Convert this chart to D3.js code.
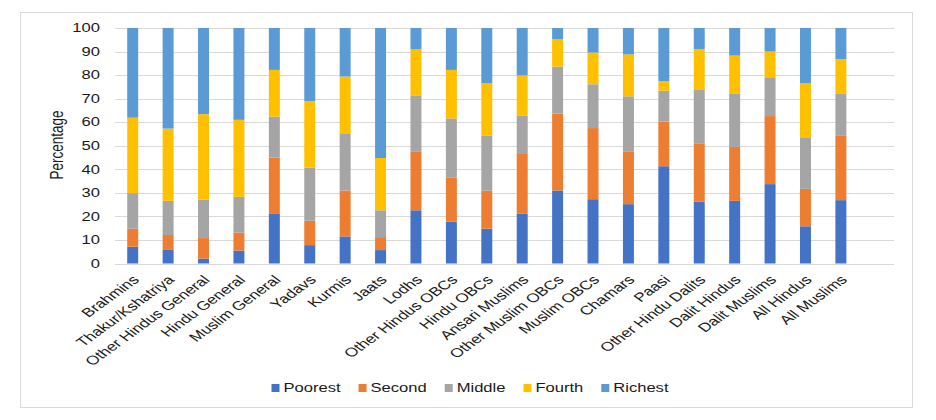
<!DOCTYPE html>
<html>
<head>
<meta charset="utf-8">
<script src="https://cdn.jsdelivr.net/npm/d3@7"></script>
<style>
  body { margin: 0; background: #fff; }
  svg { font-family: "Liberation Sans", Arial, sans-serif; }
</style>
</head>
<body>
<script>
// groups along the x axis
const categories = ["Brahmins", "Thakur/Kshatriya", "Other Hindus General", "Hindu General",
   "Muslim General", "Yadavs", "Kurmis", "Jaats", "Lodhs", "Other Hindus OBCs", "Hindu OBCs",
   "Ansari Muslims", "Other Muslim OBCs", "Muslim OBCs", "Chamars", "Paasi", "Other Hindu Dalits",
   "Dalit Hindus", "Dalit Muslims", "All Hindus", "All Muslims"];

const seriesNames = ["Poorest", "Second", "Middle", "Fourth", "Richest"];
const seriesColors = ["#4472C4", "#ED7D31", "#A5A5A5", "#FFC000", "#5B9BD5"];

// percentage in each wealth quintile
const poorest = [7.1, 6.0, 2.1, 5.5, 21.3, 7.8, 11.5, 5.7, 22.6, 17.8, 14.8, 21.1, 31.0, 27.3, 25.2, 41.3, 26.3, 26.6, 33.7, 15.8, 26.9];
const second  = [7.7, 6.1, 8.7, 7.6, 23.7, 10.4, 19.5, 5.5, 24.8, 18.6, 16.1, 25.4, 32.7, 30.2, 22.2, 18.9, 24.5, 22.9, 28.9, 15.9, 27.3];
const middle  = [15.1, 14.5, 16.4, 15.2, 17.4, 22.5, 24.0, 11.4, 24.0, 25.2, 23.3, 16.2, 19.9, 18.6, 23.6, 13.2, 22.9, 22.5, 16.5, 21.6, 17.8];
const fourth  = [32.0, 30.7, 36.2, 32.7, 19.8, 28.3, 24.4, 22.2, 19.5, 20.6, 22.3, 17.2, 11.6, 13.5, 17.8, 4.0, 17.3, 16.3, 10.9, 23.2, 14.8];
const richest = [38.1, 42.7, 36.6, 39.0, 17.8, 31.0, 20.6, 55.2, 9.1, 17.8, 23.5, 20.1, 4.8, 10.4, 11.2, 22.6, 9.0, 11.7, 10.0, 23.5, 13.2];

const yTicks = [0, 10, 20, 30, 40, 50, 60, 70, 80, 90, 100];

const width = 936, height = 420;
const margin = { left: 115, right: 42, top: 28, bottom: 157 };
// the reference picture is stretched sideways, so the text is too
const stretch = 1.38;

const rows = categories.map((c, i) => ({
   cat: c,
   Poorest: poorest[i], Second: second[i], Middle: middle[i], Fourth: fourth[i], Richest: richest[i]
}));
const stacked = d3.stack().keys(seriesNames)(rows);

const svg = d3.select("body").append("svg")
   .attr("width", width)
   .attr("height", height);

// chart frame
svg.append("rect")
   .attr("x", 20.5).attr("y", 12.5)
   .attr("width", 892).attr("height", 395)
   .attr("fill", "#fff")
   .attr("stroke", "#d9d9d9");

// Excel leaves an empty slot at the right end
const x = d3.scaleBand()
   .domain(categories.concat([" "]))
   .range([margin.left, width - margin.right])
   .paddingInner(0.69)
   .paddingOuter(0.345);

const y = d3.scaleLinear()
   .domain([0, 100])
   .range([height - margin.bottom + 0.5, margin.top]);

// gridlines
svg.append("g")
   .selectAll("line")
   .data(yTicks)
   .enter().append("line")
   .attr("x1", margin.left).attr("x2", width - margin.right)
   .attr("y1", d => Math.round(y(d)) + 0.5).attr("y2", d => Math.round(y(d)) + 0.5)
   .attr("stroke", "#d9d9d9")
   .attr("stroke-width", 1);

// y tick labels
svg.append("g")
   .selectAll("text")
   .data(yTicks)
   .enter().append("text")
   .attr("transform", d => `translate(${margin.left - 15},${y(d)}) scale(${stretch},1)`)
   .attr("text-anchor", "end")
   .attr("dy", "0.35em")
   .style("font-size", "12px")
   .attr("fill", "#1a1a1a")
   .text(d => d);

// bars
svg.append("g")
   .selectAll("g")
   .data(stacked)
   .enter().append("g")
   .attr("fill", (d, i) => seriesColors[i])
   .selectAll("rect")
   .data(d => d)
   .enter().append("rect")
   .attr("x", d => x(d.data.cat))
   .attr("width", x.bandwidth())
   .attr("y", d => y(d[1]))
   .attr("height", d => y(d[0]) - y(d[1]));

// x labels, rotated
svg.append("g")
   .selectAll("text")
   .data(categories)
   .enter().append("text")
   .attr("transform", d => `translate(${x(d) + x.bandwidth() / 2 + 3},${y(0) + 14}) scale(${stretch},1) rotate(-45)`)
   .attr("text-anchor", "end")
   .attr("dy", "0.35em")
   .style("font-size", "12.5px")
   .attr("fill", "#1a1a1a")
   .text(d => d);

// axis title
svg.append("text")
   .attr("transform", `translate(${56},${145}) scale(${stretch},1) rotate(-90)`)
   .attr("text-anchor", "middle")
   .attr("dy", "0.35em")
   .style("font-size", "13.5px")
   .attr("fill", "#1a1a1a")
   .text("Percentage");

// legend
const legend = svg.append("g");
const items = legend.selectAll("g")
   .data(seriesNames)
   .enter().append("g");
items.append("rect")
   .attr("width", 8).attr("height", 8)
   .attr("y", -4)
   .attr("fill", (d, i) => seriesColors[i]);
items.append("text")
   .attr("transform", `translate(12,0) scale(${stretch},1)`)
   .attr("dy", "0.35em")
   .style("font-size", "12px")
   .attr("fill", "#1a1a1a")
   .text(d => d);

let offset = 0;
items.each(function () {
   const w = d3.select(this).select("text").node().getComputedTextLength() * stretch;
   d3.select(this).attr("transform", `translate(${offset},0)`);
   offset += 12 + w + 18;
});
const total = offset - 18;
legend.attr("transform", `translate(${470 - total / 2},${388})`);
</script>
</body>
</html>
